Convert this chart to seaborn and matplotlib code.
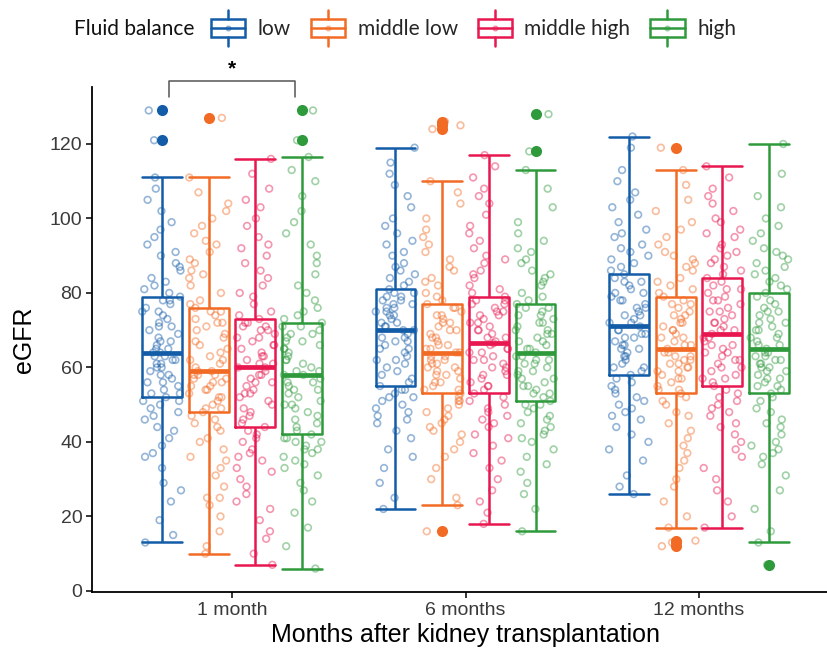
import numpy as np
import pandas as pd
import seaborn as sns
import matplotlib.pyplot as plt
from matplotlib.legend_handler import HandlerBase
from matplotlib.lines import Line2D
from matplotlib.patches import Rectangle

months = ["1 month", "6 months", "12 months"]
balance = ["low", "middle low", "middle high", "high"]
colors = ["#135CA8", "#F26B25", "#E8174F", "#2E9A3C"]

# eGFR values per group
low_1m = [13, 15, 19, 24, 27, 29, 33, 36, 37, 39, 41, 43, 44, 46, 47, 48, 49, 50, 51, 51,
          52, 53, 53, 54, 55, 56, 56, 57, 58, 58, 59, 60, 60, 61, 61, 62, 62, 63, 63, 64,
          64, 65, 65, 66, 67, 67, 68, 69, 70, 71, 71, 72, 73, 74, 75, 75, 76, 77, 78, 78,
          79, 80, 81, 82, 83, 84, 86, 87, 88, 90, 91, 93, 95, 97, 99, 102, 105, 108, 111, 121, 129]
midlow_1m = [10, 12, 16, 20, 23, 25, 25, 28, 31, 33, 35, 36, 38, 40, 41, 43, 44, 45, 46, 47,
             48, 49, 49, 50, 51, 52, 52, 53, 54, 54, 55, 55, 56, 56, 57, 57, 58, 58, 58, 59,
             59, 60, 61, 62, 62, 63, 64, 65, 66, 67, 68, 69, 70, 71, 72, 72, 73, 74, 75, 75,
             76, 77, 78, 80, 82, 84, 85, 86, 88, 89, 91, 93, 94, 96, 98, 100, 102, 104, 107, 111, 127]
midhigh_1m = [7, 10, 14, 16, 19, 22, 24, 26, 28, 30, 32, 33, 35, 36, 37, 38, 40, 41, 42, 43,
              44, 45, 46, 47, 48, 49, 50, 51, 52, 53, 53, 54, 55, 56, 56, 57, 58, 58, 59, 60,
              60, 61, 61, 62, 63, 63, 64, 65, 66, 66, 67, 68, 68, 69, 70, 70, 71, 71, 72, 72,
              73, 74, 75, 77, 79, 80, 82, 84, 86, 88, 90, 92, 93, 95, 98, 100, 103, 105, 108, 112, 116]
high_1m = [6, 12, 17, 21, 24, 27, 29, 31, 33, 34, 35, 36, 37, 38, 38, 39, 40, 40, 41, 41,
           42, 43, 44, 45, 46, 47, 48, 49, 50, 50, 51, 52, 53, 54, 54, 55, 56, 56, 57, 58,
           58, 59, 59, 60, 61, 62, 62, 63, 64, 65, 65, 66, 67, 67, 68, 69, 69, 70, 71, 71,
           72, 73, 74, 75, 76, 78, 80, 82, 85, 88, 90, 93, 96, 99, 102, 106, 110, 113, 116.5, 121, 129]

low_6m = [22, 25, 29, 33, 36, 38, 41, 43, 45, 46, 47, 48, 49, 50, 51, 52, 52, 53, 54, 54,
          55, 56, 57, 58, 59, 60, 61, 62, 62, 63, 64, 65, 65, 66, 67, 67, 68, 68, 69, 70,
          70, 71, 71, 72, 72, 73, 74, 74, 75, 75, 76, 76, 77, 77, 78, 78, 79, 79, 80, 80,
          81, 82, 83, 84, 85, 86, 87, 88, 90, 91, 93, 94, 96, 98, 100, 103, 106, 109, 112, 115, 119]
midlow_6m = [16, 23, 25, 30, 33, 36, 38, 40, 42, 43, 44, 45, 46, 47, 48, 49, 50, 51, 51, 52,
             53, 54, 54, 55, 56, 56, 57, 58, 58, 59, 59, 60, 60, 61, 61, 62, 62, 63, 63, 64,
             64, 65, 65, 66, 66, 67, 68, 68, 69, 70, 70, 71, 72, 72, 73, 74, 74, 75, 76, 76,
             77, 78, 79, 80, 82, 83, 84, 86, 87, 89, 91, 93, 95, 97, 100, 104, 107, 110, 124, 125, 126]
midhigh_6m = [18, 21, 24, 27, 30, 33, 35, 37, 39, 41, 42, 44, 45, 46, 47, 48, 49, 50, 51, 52,
              53, 54, 55, 55, 56, 57, 58, 58, 59, 60, 60, 61, 62, 62, 63, 64, 64, 65, 65, 66,
              66.5, 67, 68, 68, 69, 70, 70, 71, 72, 72, 73, 74, 74, 75, 75, 76, 77, 77, 78, 78,
              79, 80, 81, 82, 84, 85, 86, 88, 89, 90, 92, 94, 96, 98, 101, 104, 106, 108, 111, 114, 117]
high_6m = [16, 22, 26, 29, 32, 34, 36, 38, 40, 41, 42, 43, 44, 45, 46, 47, 48, 49, 50, 50,
           51, 52, 53, 53, 54, 55, 55, 56, 57, 57, 58, 59, 59, 60, 61, 61, 62, 62, 63, 63,
           64, 65, 65, 66, 67, 67, 68, 69, 69, 70, 70, 71, 72, 72, 73, 74, 74, 75, 76, 76,
           77, 78, 79, 80, 82, 83, 84, 85, 86, 88, 89, 91, 92, 94, 96, 99, 103, 108, 113, 118, 128]

low_12m = [26, 28, 31, 35, 38, 40, 42, 44, 46, 47, 48, 49, 50, 51, 52, 53, 54, 55, 56, 57,
           58, 59, 60, 60, 61, 62, 63, 63, 64, 65, 65, 66, 66, 67, 68, 68, 69, 69, 70, 70,
           71, 72, 72, 73, 74, 74, 75, 76, 76, 77, 78, 78, 79, 80, 80, 81, 82, 83, 83, 84,
           85, 86, 87, 88, 89, 90, 91, 92, 93, 95, 96, 97, 99, 101, 103, 105, 107, 110, 113, 119, 122]
midlow_12m = [12, 13, 13.5, 17, 20, 24, 28, 30, 33, 35, 37, 39, 41, 43, 45, 47, 48, 50, 51, 52,
              53, 54, 54, 55, 56, 57, 57, 58, 59, 59, 60, 60, 61, 61, 62, 62, 63, 63, 64, 64,
              65, 66, 66, 67, 68, 68, 69, 70, 70, 71, 72, 72, 73, 74, 74, 75, 76, 77, 77, 78,
              79, 80, 81, 82, 83, 84, 86, 87, 88, 89, 90, 91, 93, 95, 97, 99, 102, 105, 109, 113, 119]
midhigh_12m = [17, 20, 24, 27, 30, 33, 36, 38, 40, 42, 44, 45, 47, 48, 49, 50, 51, 52, 53, 54,
               55, 56, 57, 57, 58, 59, 60, 60, 61, 62, 62, 63, 64, 64, 65, 66, 66, 67, 68, 68,
               69, 70, 70, 71, 72, 72, 73, 74, 75, 75, 76, 77, 78, 78, 79, 80, 81, 81, 82, 83,
               84, 85, 86, 87, 88, 89, 90, 91, 92, 93, 95, 96, 97, 99, 100, 102, 104, 106, 108, 111, 114]
high_12m = [7, 13, 16, 22, 27, 31, 34, 36, 37, 38, 39, 40, 42, 44, 45, 46, 48, 49, 51, 52,
            53, 54, 55, 55, 56, 57, 57, 58, 59, 59, 60, 60, 61, 61, 62, 62, 63, 63, 64, 64,
            65, 66, 66, 67, 68, 68, 69, 70, 70, 71, 72, 72, 73, 74, 75, 75, 76, 77, 78, 79,
            80, 81, 82, 83, 84, 85, 86, 87, 88, 89, 90, 91, 92, 94, 96, 98, 100, 103, 106, 112, 120]

groups = {
    "1 month": [low_1m, midlow_1m, midhigh_1m, high_1m],
    "6 months": [low_6m, midlow_6m, midhigh_6m, high_6m],
    "12 months": [low_12m, midlow_12m, midhigh_12m, high_12m],
}
rows = []
for m in months:
    for b, vals in zip(balance, groups[m]):
        for v in vals:
            rows.append((m, b, v))
df = pd.DataFrame(rows, columns=["month", "balance", "egfr"])

sns.set_theme(style="ticks")
plt.rcParams["font.family"] = ["Liberation Sans", "DejaVu Sans"]

fig = plt.figure(figsize=(8.28, 6.53), dpi=100)
ax = fig.add_axes([0.1111, 0.0934, 0.9022, 0.7734])

np.random.seed(7)
sns.stripplot(data=df, x="month", y="egfr", hue="balance", order=months, hue_order=balance,
              palette=colors, dodge=True, jitter=0.34, size=4.8, alpha=0.45,
              legend=False, ax=ax, zorder=1)
for coll in ax.collections:
    fc = coll.get_facecolors()
    coll.set_edgecolors(fc)
    coll.set_facecolors("none")
    coll.set_linewidths(1.2)

gap = 0.145
sns.boxplot(data=df, x="month", y="egfr", hue="balance", order=months, hue_order=balance,
            palette=colors, fill=False, width=0.8, gap=gap, linewidth=1.8, whis=1.5,
            medianprops={"linewidth": 3.4},
            flierprops={"marker": "o", "markersize": 8},
            legend=False, ax=ax)

boxw = 0.2 * (1 - gap)
for ln in ax.lines:
    if ln.get_marker() not in ("None", None, "", " "):
        ln.set_markerfacecolor(ln.get_markeredgecolor())
        ln.set_markeredgewidth(0)
        ln.set_zorder(3)
        continue
    xd = np.asarray(ln.get_xdata(), float)
    yd = np.asarray(ln.get_ydata(), float)
    if len(xd) == 2 and yd[0] == yd[1] and (xd[1] - xd[0]) < boxw * 0.98:
        c = xd.mean()
        ln.set_xdata([c - boxw / 2, c + boxw / 2])

ax.set_xlim(-0.6, 2.6)
ax.set_ylim(-0.3, 135.3)
ax.set_yticks([0, 20, 40, 60, 80, 100, 120])
sns.despine(ax=ax)
for s in ["left", "bottom"]:
    ax.spines[s].set_linewidth(1.3)
    ax.spines[s].set_color("black")
ax.tick_params(axis="both", length=4, width=1.1, color="black", labelsize=14,
               labelcolor="#3a3a3a", pad=3)
ax.set_xlabel("Months after kidney transplantation", fontsize=18, color="black", labelpad=3)
ax.set_ylabel("eGFR", fontsize=18, color="black", labelpad=10)

# significance bracket
ax.plot([-0.27, -0.27, 0.27, 0.27], [132.5, 137, 137, 132.5], color="#555555",
        lw=1.1, clip_on=False)
ax.text(0, 137.6, "*", ha="center", va="bottom", fontsize=15, fontweight="bold",
        color="black", clip_on=False)


class BoxHandler(HandlerBase):
    def create_artists(self, legend, orig_handle, xdescent, ydescent, width, height,
                       fontsize, trans):
        c = orig_handle.get_color()
        x0, y0 = -xdescent, -ydescent
        cx, cy = x0 + width / 2, y0 + height / 2
        bh = height * 0.95
        rect = Rectangle((x0, cy - bh / 2), width, bh, fill=False, edgecolor=c, lw=1.8,
                         transform=trans)
        mid = Line2D([x0, x0 + width], [cy, cy], color=c, lw=1.8, transform=trans)
        up = Line2D([cx, cx], [cy + bh / 2, cy + bh / 2 + height * 0.5], color=c, lw=1.8,
                    transform=trans)
        dn = Line2D([cx, cx], [cy - bh / 2, cy - bh / 2 - height * 0.5], color=c, lw=1.8,
                    transform=trans)
        dot = Line2D([cx], [cy], marker="o", color=c, alpha=0.35, ms=3.5, ls="none",
                     transform=trans)
        return [rect, mid, up, dn, dot]


handles = [Line2D([], [], color=c) for c in colors]
fig.text(74 / 828, 1 - 29 / 653, "Fluid balance", ha="left", va="center", fontsize=15,
         family=["Lato", "DejaVu Sans"], color="#111111")
fig.legend(handles, balance, loc="center left", bbox_to_anchor=(211 / 828, 1 - 29 / 653),
           ncol=4, frameon=False, handler_map={Line2D: BoxHandler()},
           handlelength=1.65, handleheight=1.0, handletextpad=0.6, columnspacing=0.95,
           borderpad=0, borderaxespad=0,
           prop={"family": ["Lato", "DejaVu Sans"], "size": 15})

fig.savefig("out.png", dpi=100)
